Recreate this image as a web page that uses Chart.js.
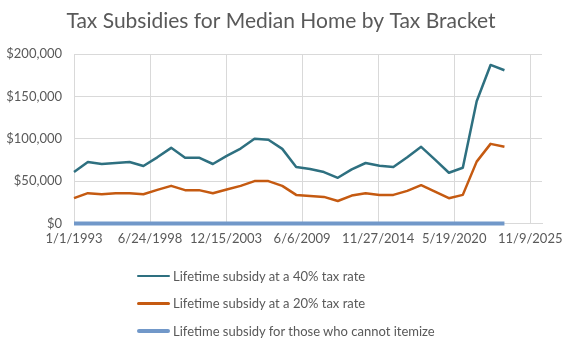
<!DOCTYPE html>
<html>
<head>
<meta charset="utf-8">
<script src="https://cdn.jsdelivr.net/npm/chart.js@4.4.1/dist/chart.umd.min.js"></script>
<style>
  html, body { margin: 0; padding: 0; background: #fff; }
  #wrap { position: relative; width: 562px; height: 345px; }
  #legend { position: absolute; left: 137px; top: 262px; font-family: Lato, sans-serif; font-size: 13px; color: #595959; }
  #legend .row { display: flex; align-items: center; height: 27.5px; }
  #legend .swatch { width: 33px; margin-right: 3px; border-radius: 2px; }
</style>
</head>
<body>
<div id="wrap">
  <canvas id="chart"></canvas>
  <div id="legend"></div>
</div>
<script>
const years = [1993, 1994, 1995, 1996, 1997, 1998, 1999, 2000, 2001, 2002, 2003,
  2004, 2005, 2006, 2007, 2008, 2009, 2010, 2011, 2012, 2013, 2014,
  2015, 2016, 2017, 2018, 2019, 2020, 2021, 2022, 2023, 2024];

const subsidy40 = [60700, 72600, 70200, 71400, 72600, 67900, 78100, 89300, 77700, 77700, 70200,
  79800, 88500, 100000, 98800, 88100, 66700, 64300, 60700, 53900, 63900, 71400,
  68200, 66700, 78100, 90500, 75400, 59900, 65800, 144400, 187300, 181000];

const subsidy20 = [29800, 35700, 34500, 35700, 35700, 34500, 39600, 44400, 39300, 39300, 35700,
  40000, 44400, 50000, 50000, 44400, 33700, 32500, 31300, 26500, 32900, 35700,
  33700, 33700, 38500, 45200, 37600, 29800, 33700, 73000, 94000, 90500];

const subsidyNoItemize = [0, 0, 0, 0, 0, 0, 0, 0, 0, 0, 0,
  0, 0, 0, 0, 0, 0, 0, 0, 0, 0, 0,
  0, 0, 0, 0, 0, 0, 0, 0, 0, 0];

const xTickLabels = ['1/1/1993', '6/24/1998', '12/15/2003', '6/6/2009', '11/27/2014', '5/19/2020', '11/9/2025'];

const seriesNames = [
  'Lifetime subsidy at a 40% tax rate',
  'Lifetime subsidy at a 20% tax rate',
  'Lifetime subsidy for those who cannot itemize'
];

// dates are handled as whole days since 1970-01-01 (UTC)
const DAY = 86400000;
const toDay = s => {
  const [m, d, y] = s.split('/').map(Number);
  return Math.round(Date.UTC(y, m - 1, d) / DAY);
};
const fmtDay = v => {
  const d = new Date(v * DAY);
  return (d.getUTCMonth() + 1) + '/' + d.getUTCDate() + '/' + d.getUTCFullYear();
};

const tickDays = xTickLabels.map(toDay);
const xs = years.map(y => toDay('1/1/' + y));
const pts = vals => vals.map((v, i) => ({ x: xs[i], y: v }));

const gray = '#595959';
const gridColor = '#d9d9d9';
Chart.defaults.font.family = 'Lato, sans-serif';
Chart.defaults.color = gray;

const chart = new Chart(document.getElementById('chart'), {
  type: 'line',
  data: {
    datasets: [
      { label: seriesNames[0], data: pts(subsidy40), borderColor: '#2e7080', borderWidth: 2.5 },
      { label: seriesNames[1], data: pts(subsidy20), borderColor: '#c55a11', borderWidth: 2.5 },
      { label: seriesNames[2], data: pts(subsidyNoItemize), borderColor: '#7198c9', borderWidth: 4 }
    ]
  },
  options: {
    responsive: true,
    maintainAspectRatio: false,
    animation: false,
    layout: { padding: { left: 0, right: 0, top: 0, bottom: 90 } },
    elements: {
      point: { radius: 0 },
      line: { tension: 0, borderJoinStyle: 'round', borderCapStyle: 'butt' }
    },
    datasets: { line: { clip: false } },
    plugins: {
      legend: { display: false },
      tooltip: { enabled: false },
      title: {
        display: true,
        text: 'Tax Subsidies for Median Home by Tax Bracket',
        color: gray,
        font: { size: 21, weight: 'normal' },
        padding: { top: 9, bottom: 20 }
      }
    },
    scales: {
      x: {
        type: 'linear',
        min: tickDays[0],
        max: tickDays[0] + 12310,
        afterBuildTicks: axis => { axis.ticks = tickDays.map(v => ({ value: v })); },
        afterFit: axis => { axis.paddingLeft = 0; axis.paddingRight = 20; },
        ticks: { callback: v => fmtDay(v), font: { size: 13 }, padding: 8, maxRotation: 0, autoSkip: false },
        grid: { color: gridColor, drawTicks: false },
        border: { color: gridColor }
      },
      y: {
        min: 0,
        max: 200000,
        afterFit: axis => { axis.width = 74; },
        ticks: { stepSize: 50000, callback: v => '$' + v.toLocaleString('en-US'), font: { size: 13 }, padding: 12 },
        grid: { color: gridColor, drawTicks: false },
        border: { color: gridColor }
      }
    }
  }
});

// legend rows below the plot, one series per row
const legend = document.getElementById('legend');
chart.data.datasets.forEach(ds => {
  const row = document.createElement('div');
  row.className = 'row';
  const sw = document.createElement('span');
  sw.className = 'swatch';
  sw.style.height = ds.borderWidth + 'px';
  sw.style.background = ds.borderColor;
  const txt = document.createElement('span');
  txt.textContent = ds.label;
  row.appendChild(sw);
  row.appendChild(txt);
  legend.appendChild(row);
});
</script>
</body>
</html>
